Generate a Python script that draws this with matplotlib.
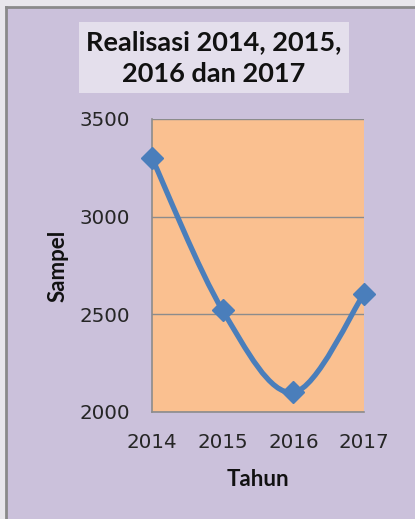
import matplotlib
matplotlib.use("Agg")
import matplotlib.pyplot as plt
from matplotlib.path import Path
from matplotlib.patches import PathPatch, Rectangle
from matplotlib.lines import Line2D
import numpy as np

years = [2014, 2015, 2016, 2017]
sampel = [3300, 2520, 2100, 2605]
yticks = [2000, 2500, 3000, 3500]

title = "Realisasi 2014, 2015,\n2016 dan 2017"
xlabel = "Tahun"
ylabel = "Sampel"

FONT = ["Lato", "DejaVu Sans"]
TICKFONT = ["DejaVu Sans"]
plt.rcParams['font.family'] = FONT

W, H = 415, 519
fig = plt.figure(figsize=(W / 100, H / 100), dpi=100)
fig.patch.set_facecolor('#E8E6EB')

# chart area background
fig.patches.append(Rectangle((6 / W, 0), 1 - 6 / W, 1 - 7 / H, transform=fig.transFigure,
                             facecolor='#CBC1DB', edgecolor='none', zorder=-3))
fig.lines.append(Line2D([6 / W, 6 / W], [0, 1 - 7 / H], transform=fig.transFigure,
                        color='#8A8A8A', lw=2.0, zorder=-2))
fig.lines.append(Line2D([6 / W, 1], [1 - 7 / H, 1 - 7 / H], transform=fig.transFigure,
                        color='#8A8A8A', lw=2.0, zorder=-2))

# title box
fig.patches.append(Rectangle((79 / W, 1 - 93 / H), 270 / W, 71 / H, transform=fig.transFigure,
                             facecolor='#E4DFEC', edgecolor='none', zorder=-1))
fig.text(214 / W, 1 - 58 / H, title, ha='center', va='center', fontsize=19.5,
         fontweight='bold', linespacing=1.4, color='#111111', zorder=2)

ax = fig.add_axes([152 / W, 1 - 412 / H, 212 / W, 293 / H])
ax.set_zorder(1)
ax.set_facecolor('#FAC090')
ax.set_xlim(years[0], years[-1])
ax.set_ylim(yticks[0], yticks[-1])
ax.set_xticks(years)
ax.set_yticks(yticks)
ax.tick_params(axis='both', length=0, labelsize=14.3, colors='#262626')
ax.tick_params(axis='y', pad=16)
ax.tick_params(axis='x', pad=15)
for lab in ax.get_xticklabels() + ax.get_yticklabels():
    lab.set_fontfamily(TICKFONT)
ax.grid(axis='y', color='#8C8C8C', lw=1.0)
ax.set_axisbelow(True)
for s in ['top', 'right']:
    ax.spines[s].set_visible(False)
for s in ['left', 'bottom']:
    ax.spines[s].set_color('#8C8C8C')
    ax.spines[s].set_linewidth(1.2)

ax.set_xlabel(xlabel, fontsize=16, fontweight='bold', labelpad=12, color='#111111')
ax.set_ylabel(ylabel, fontsize=16, fontweight='bold', labelpad=8, color='#111111')

# smoothed line (Catmull-Rom style Bezier, like Excel "smoothed line")
P = np.column_stack([years, sampel]).astype(float)
n = len(P)
verts = [tuple(P[0])]
codes = [Path.MOVETO]
for i in range(n - 1):
    p0 = P[i - 1] if i > 0 else P[i]
    p1 = P[i]
    p2 = P[i + 1]
    p3 = P[i + 2] if i + 2 < n else P[i + 1]
    c1 = p1 + (p2 - p0) / 6.0
    c2 = p2 - (p3 - p1) / 6.0
    verts += [tuple(c1), tuple(c2), tuple(p2)]
    codes += [Path.CURVE4] * 3
ax.add_patch(PathPatch(Path(verts, codes), facecolor='none', edgecolor='#4A7EBB',
                       lw=3.8, capstyle='round', zorder=3, clip_on=False))
ax.plot(years, sampel, linestyle='none', marker='D', markersize=11,
        color='#4A7EBB', zorder=4, clip_on=False)

fig.savefig("out.png", dpi=100)
